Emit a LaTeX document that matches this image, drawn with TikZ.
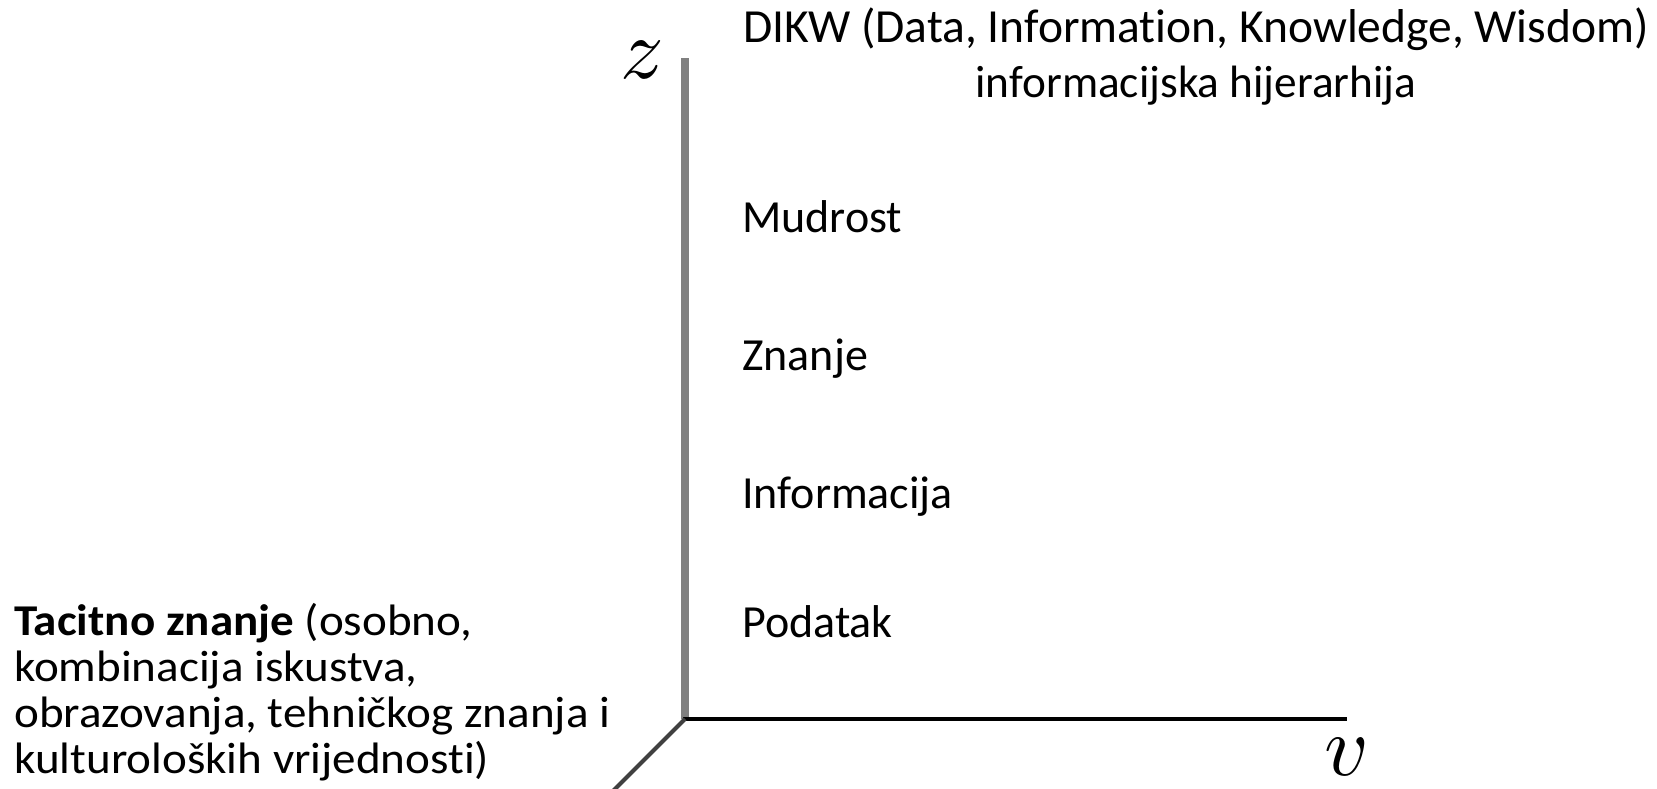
\documentclass[tikz,border=0pt]{standalone}
\usepackage{fontspec}
\usepackage{graphicx}
\setmainfont{Carlito}[Ligatures=CommonOff]
\newfontfamily\leftfont[FakeStretch=1.07,Ligatures=CommonOff]{Carlito}
\begin{document}
\begin{tikzpicture}[x=1pt,y=-1pt,
  lbl/.style={inner sep=0pt,anchor=base west,font=\fontsize{46}{55}\selectfont},
  axislbl/.style={inner sep=0pt},
  zaxis/.style={line width=8pt,color={rgb,255:red,128;green,128;blue,128}},
  yaxis/.style={line width=4pt,color=black},
  daxis/.style={line width=4pt,color={rgb,255:red,64;green,64;blue,64}}]
\useasboundingbox (0,0) rectangle (1657,789);
\clip (0,0) rectangle (1657,789);
\coordinate (O) at (685,719);
\coordinate (Ztop) at (685,58);
\coordinate (Vend) at (1347,719);
\coordinate (Dend) at (605,799);
\draw[zaxis] (O) -- (Ztop);
\draw[yaxis] ([xshift=-2pt]O) -- (Vend);
\draw[daxis] (O) -- (Dend);
\node[axislbl] (zl) at (642,60) {\scalebox{8.6}{$z$}};
\node[axislbl,anchor=base] (vl) at (1347,775) {\scalebox{8.6}{$v$}};
\node[inner sep=0pt,anchor=base,align=center,font=\fontsize{47.5}{55}\selectfont] (title) at (1196,98)
  {DIKW (Data, Information, Knowledge, Wisdom)\\\fontsize{45.3}{55}\selectfont informacijska hijerarhija};
\node[lbl] (mud) at (742,232) {Mudrost};
\node[lbl] (zna) at (742,370) {Znanje};
\node[lbl] (inf) at (742,508) {Informacija};
\node[lbl] (pod) at (742,637) {Podatak};
\node[inner sep=0pt,anchor=base west,align=left,font=\leftfont\fontsize{44}{46}\selectfont] (tac) at (14,773)
  {\textbf{Tacitno znanje} (osobno,\\kombinacija iskustva,\\obrazovanja, tehničkog znanja i\\kulturoloških vrijednosti)};
\end{tikzpicture}
\end{document}
